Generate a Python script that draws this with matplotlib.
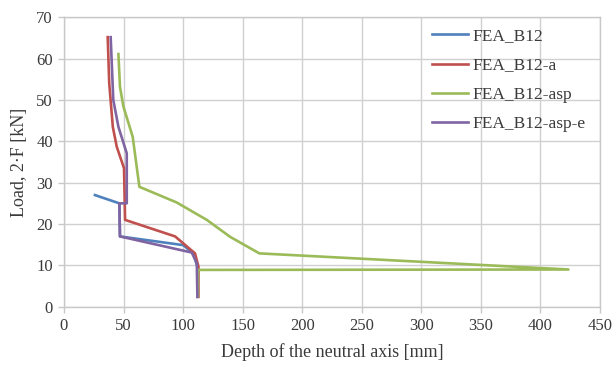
import matplotlib
matplotlib.use("Agg")
import matplotlib.pyplot as plt

plt.rcParams['font.family'] = ['Liberation Serif', 'DejaVu Serif']

b12_x = [26, 46.5, 47, 100, 108.7, 112, 112]
b12_y = [27.0, 25.0, 17.0, 14.9, 12.9, 9.7, 2.4]

b12a_x = [36.7, 38, 41, 44.3, 50.4, 51.3, 93.3, 110, 112.9, 112.9]
b12a_y = [65.2, 54, 43.5, 38.7, 33.5, 21.0, 17.0, 12.9, 9.7, 2.4]

asp_x = [45.7, 47, 49.9, 57.7, 63.3, 94.7, 119.9, 139.5, 164, 423.5, 112.5, 112.5]
asp_y = [61.1, 53.2, 48.4, 41.1, 29.0, 25.2, 21.0, 16.9, 12.9, 9.0, 8.9, 2.4]

aspe_x = [39.2, 41.4, 45.7, 52.7, 52.7, 46.5, 47, 107.3, 111.5, 112]
aspe_y = [65.2, 50, 43.5, 37.1, 25.0, 25.0, 17.0, 13.1, 10.5, 2.4]

series = [
    ("FEA_B12", b12_x, b12_y, "#4F81BD"),
    ("FEA_B12-a", b12a_x, b12a_y, "#C0504D"),
    ("FEA_B12-asp", asp_x, asp_y, "#9BBB59"),
    ("FEA_B12-asp-e", aspe_x, aspe_y, "#8064A2"),
]

fig = plt.figure(figsize=(6.14, 3.65), dpi=100)
ax = fig.add_axes([0.1042, 0.1597, 0.873, 0.7929])

for name, x, y, c in series:
    ax.plot(x, y, color=c, lw=1.9, label=name, solid_joinstyle='round')

ax.set_xlim(0, 450)
ax.set_ylim(0, 70)
ax.set_xticks(range(0, 451, 50))
ax.set_yticks(range(0, 71, 10))
ax.grid(True, color="#D0D0D0", lw=1.0)
ax.set_axisbelow(True)
for s in ax.spines.values():
    s.set_color("#C8C8C8")
    s.set_linewidth(1.0)
ax.tick_params(axis='both', colors="#C8C8C8", length=4, width=1.0, pad=4,
               labelcolor="#3A3A3A", labelsize=12)
ax.set_xlabel("Depth of the neutral axis [mm]", fontsize=13, color="#3A3A3A", labelpad=7)
ax.set_ylabel("Load, 2·F [kN]", fontsize=13, color="#3A3A3A", labelpad=6)

leg = ax.legend(loc='upper left', bbox_to_anchor=(0.686, 0.962), frameon=False,
                borderpad=0, borderaxespad=0,
                fontsize=12.5, handlelength=2.07, labelspacing=0.75, handletextpad=0.3)
for t in leg.get_texts():
    t.set_color("#3A3A3A")

fig.savefig("out.png", dpi=100)
